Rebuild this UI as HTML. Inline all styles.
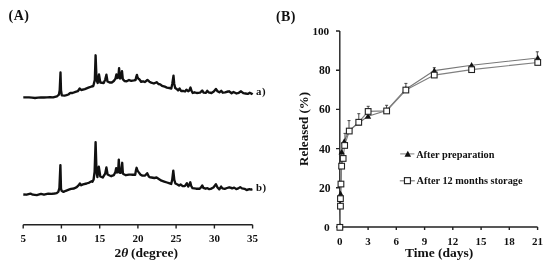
<!DOCTYPE html><html><head><meta charset="utf-8"><style>html,body{margin:0;padding:0;background:#fff;}svg{display:block;filter:grayscale(100%);}text{font-family:"Liberation Serif",serif;font-weight:bold;fill:#111;}</style></head><body>
<svg width="550" height="266" viewBox="0 0 550 266">
<text x="8.6" y="20.3" font-size="14" letter-spacing="0.5">(A)</text>
<text x="276" y="20.5" font-size="14" letter-spacing="0.4">(B)</text>
<path d="M23.2,224.8 H252.6 M23.2,224.8 V228.4 M61.4,224.8 V228.4 M99.7,224.8 V228.4 M137.9,224.8 V228.4 M176.1,224.8 V228.4 M214.4,224.8 V228.4 M252.6,224.8 V228.4" stroke="#222" stroke-width="1.4" fill="none"/>
<text x="23.2" y="242" font-size="11" text-anchor="middle">5</text>
<text x="61.4" y="242" font-size="11" text-anchor="middle">10</text>
<text x="99.7" y="242" font-size="11" text-anchor="middle">15</text>
<text x="137.9" y="242" font-size="11" text-anchor="middle">20</text>
<text x="176.1" y="242" font-size="11" text-anchor="middle">25</text>
<text x="214.4" y="242" font-size="11" text-anchor="middle">30</text>
<text x="252.6" y="242" font-size="11" text-anchor="middle">35</text>
<text x="114.5" y="256.8" font-size="13.5">2<tspan font-style="italic">θ</tspan></text>
<text x="131.0" y="256.8" font-size="13.5">(degree)</text>
<path d="M23.3,97.4 L26.0,97.3 L29.0,97.4 L32.0,97.7 L35.0,98.0 L38.0,97.7 L41.0,97.4 L44.0,97.5 L47.0,97.3 L50.0,97.1 L53.1,97.3 L55.0,96.8 L56.9,96.3 L58.9,94.7 L59.7,90.3 L60.5,72.5 L61.0,90.3 L61.8,95.4 L64.6,95.6 L66.5,95.2 L68.4,94.5 L70.3,92.9 L72.5,93.0 L75.5,91.9 L77.8,91.2 L79.7,88.5 L81.2,90.0 L84.8,89.1 L88.4,87.7 L91.6,86.5 L93.3,86.0 L94.8,80.0 L95.6,55.3 L96.4,76.0 L96.9,81.0 L97.7,83.0 L99.0,74.5 L100.3,82.5 L103.7,83.0 L105.2,79.6 L106.4,74.7 L107.5,81.5 L109.6,82.5 L111.8,82.5 L113.8,81.0 L115.5,78.6 L116.4,74.5 L117.2,78.0 L118.3,77.5 L119.1,68.2 L119.9,78.5 L120.8,77.8 L121.4,76.0 L122.0,71.1 L122.8,79.1 L124.5,81.0 L126.7,81.3 L129.0,80.0 L131.2,80.9 L133.9,80.4 L135.6,80.0 L136.2,77.0 L136.9,74.9 L137.6,77.5 L138.5,78.8 L139.3,79.3 L141.1,81.8 L143.0,81.3 L144.8,82.0 L145.8,81.3 L147.4,79.9 L149.4,81.7 L151.2,82.6 L153.9,83.5 L156.6,82.2 L158.4,84.0 L160.2,84.4 L162.0,85.8 L164.8,86.7 L166.9,87.6 L169.4,88.0 L171.3,88.5 L172.3,83.7 L173.5,75.7 L174.2,83.7 L175.2,88.0 L176.7,89.0 L178.1,90.5 L179.6,88.5 L181.1,91.0 L183.5,91.0 L185.0,91.5 L186.4,89.7 L188.1,91.2 L189.3,90.4 L190.5,87.5 L191.5,90.8 L192.7,93.0 L194.5,92.3 L196.8,93.0 L199.8,92.7 L200.9,91.9 L202.2,90.5 L203.6,92.7 L205.8,92.8 L207.2,90.8 L208.5,92.3 L211.5,93.0 L213.8,91.5 L215.9,89.0 L217.5,91.2 L219.4,92.3 L221.2,90.8 L222.8,92.7 L225.1,92.3 L228.0,91.5 L229.0,91.3 L231.6,93.2 L233.5,92.0 L236.5,93.5 L238.8,92.8 L241.0,91.3 L243.3,93.2 L245.5,93.5 L247.8,93.9 L249.7,92.8 L251.9,93.9 L252.5,94.5" stroke="#111" stroke-width="2.35" fill="none" stroke-linejoin="round" stroke-linecap="butt"/>
<path d="M23.3,194.5 L26.6,194.7 L30.5,193.6 L32.9,194.7 L36.8,195.1 L41.0,193.9 L44.0,194.7 L48.3,193.6 L51.7,193.9 L54.5,193.5 L56.7,193.1 L58.3,191.9 L59.4,188.0 L60.4,165.1 L61.0,188.6 L61.6,190.8 L63.5,191.9 L65.8,190.8 L68.8,189.7 L71.0,188.9 L74.0,188.5 L76.7,187.1 L79.0,184.9 L79.9,183.5 L81.2,185.3 L83.0,184.4 L86.6,183.5 L89.3,182.6 L91.6,181.3 L92.5,181.8 L93.6,179.5 L94.6,172.0 L95.6,142.1 L96.4,168.0 L96.9,174.0 L97.4,177.0 L98.8,166.6 L100.3,176.5 L102.7,177.5 L105.2,173.6 L106.4,167.5 L107.6,174.5 L109.6,175.5 L111.2,176.2 L113.8,175.2 L115.4,172.0 L116.2,168.1 L117.0,172.5 L118.1,172.0 L118.8,159.6 L119.5,172.5 L120.5,172.8 L121.5,169.0 L122.2,162.8 L122.9,173.5 L123.9,174.3 L125.9,175.2 L129.0,174.6 L131.6,174.7 L135.2,174.7 L135.9,170.6 L136.6,167.8 L137.5,170.6 L138.8,172.4 L140.6,174.7 L142.4,175.6 L145.1,175.6 L147.2,173.2 L148.8,176.5 L150.1,177.4 L151.6,177.5 L154.3,178.0 L156.6,177.5 L158.8,178.9 L161.5,180.7 L164.2,181.6 L167.0,182.5 L169.7,183.4 L171.2,184.0 L172.2,179.8 L173.3,170.6 L174.3,179.8 L175.4,183.5 L177.5,184.5 L179.1,185.6 L180.6,184.5 L182.7,186.1 L184.8,186.1 L186.9,183.2 L188.2,186.6 L189.4,184.6 L190.3,182.3 L191.2,186.0 L192.5,188.2 L196.1,188.7 L199.7,188.7 L201.4,186.9 L202.3,185.4 L203.3,187.8 L205.6,188.7 L207.4,188.2 L209.2,189.1 L210.7,188.9 L213.4,187.5 L215.9,184.3 L217.5,187.5 L219.3,189.3 L221.1,186.6 L222.4,188.4 L224.7,188.9 L227.0,188.0 L229.2,187.3 L230.5,187.6 L232.1,188.4 L234.2,187.6 L236.3,189.1 L238.3,188.4 L240.2,187.1 L242.0,188.4 L244.5,188.8 L246.6,190.0 L249.5,189.2 L251.1,189.6 L252.4,189.2" stroke="#111" stroke-width="2.35" fill="none" stroke-linejoin="round" stroke-linecap="butt"/>
<text x="255.9" y="95.3" font-size="10.8" letter-spacing="0.6">a)</text>
<text x="256.0" y="191.3" font-size="10.8" letter-spacing="0.6">b)</text>
<path d="M339.8,31.0 V227.0 H537.6 M336.0,227.0 H339.8 M336.0,187.8 H339.8 M336.0,148.6 H339.8 M336.0,109.4 H339.8 M336.0,70.2 H339.8 M336.0,31.0 H339.8 M339.8,227.0 V230.0 M368.1,227.0 V230.0 M396.3,227.0 V230.0 M424.6,227.0 V230.0 M452.8,227.0 V230.0 M481.1,227.0 V230.0 M509.3,227.0 V230.0 M537.6,227.0 V230.0" stroke="#222" stroke-width="1.4" fill="none"/>
<text x="329.8" y="230.9" font-size="11.4" text-anchor="end">0</text>
<text x="330.5" y="191.8" font-size="11.6" text-anchor="end">20</text>
<text x="330.5" y="152.6" font-size="11.6" text-anchor="end">40</text>
<text x="330.5" y="113.4" font-size="11.6" text-anchor="end">60</text>
<text x="330.5" y="74.2" font-size="11.6" text-anchor="end">80</text>
<text x="329.2" y="34.9" font-size="11.2" text-anchor="end">100</text>
<text x="339.8" y="244.8" font-size="11" text-anchor="middle">0</text>
<text x="368.1" y="244.8" font-size="11" text-anchor="middle">3</text>
<text x="396.3" y="244.8" font-size="11" text-anchor="middle">6</text>
<text x="424.6" y="244.8" font-size="11" text-anchor="middle">9</text>
<text x="452.8" y="244.8" font-size="11" text-anchor="middle">12</text>
<text x="481.1" y="244.8" font-size="11" text-anchor="middle">15</text>
<text x="509.3" y="244.8" font-size="11" text-anchor="middle">18</text>
<text x="537.6" y="244.8" font-size="11" text-anchor="middle">21</text>
<text transform="translate(307.8,128.9) rotate(-90)" font-size="13" text-anchor="middle">Released (%)</text>
<text x="439.1" y="257.3" font-size="13.5" text-anchor="middle">Time (days)</text>
<path d="M340.1,226.5 L340.5,205.0 L340.6,193.8 L341.0,184.5 L341.6,165.8 L341.7,152.0 L344.2,141.4 L349.0,130.5 L358.5,123.0 L368.0,116.2 L386.6,110.5 L405.9,89.2 L434.3,70.6 L471.6,65.2 L537.8,58.0" stroke="#777" stroke-width="1.15" fill="none"/>
<path d="M339.9,227.3 L340.5,206.2 L340.5,198.7 L341.0,184.0 L341.6,166.2 L343.2,158.4 L344.6,145.4 L349.3,131.0 L358.8,122.2 L368.2,111.4 L386.6,110.9 L405.9,90.0 L434.3,75.1 L471.6,69.6 L537.8,62.5" stroke="#808080" stroke-width="1.15" fill="none"/>
<path d="M345.0,133.4 V140.4 M343.5,133.4 H346.5 M349.0,120.6 V127.6 M347.5,120.6 H350.5 M358.8,113.7 V120.7 M357.3,113.7 H360.3 M368.2,106.3 V113.3 M366.7,106.3 H369.7 M386.6,105.3 V112.3 M385.1,105.3 H388.1 M405.9,83.4 V90.4 M404.4,83.4 H407.4 M434.3,67.7 V74.7 M432.8,67.7 H435.8 M537.3,51.8 V58.8 M535.8,51.8 H538.8" stroke="#333" stroke-width="0.9" fill="none"/>
<path d="M340.1,223.3 L343.3,229.1 L336.9,229.1 Z" fill="#111"/>
<path d="M340.5,201.8 L343.7,207.6 L337.3,207.6 Z" fill="#111"/>
<path d="M340.6,190.6 L343.8,196.4 L337.4,196.4 Z" fill="#111"/>
<path d="M341.0,181.3 L344.2,187.1 L337.8,187.1 Z" fill="#111"/>
<path d="M341.6,162.6 L344.8,168.4 L338.4,168.4 Z" fill="#111"/>
<path d="M341.7,148.8 L344.9,154.6 L338.5,154.6 Z" fill="#111"/>
<path d="M344.2,138.2 L347.4,144.0 L341.0,144.0 Z" fill="#111"/>
<path d="M349.0,127.3 L352.2,133.1 L345.8,133.1 Z" fill="#111"/>
<path d="M358.5,119.8 L361.7,125.6 L355.3,125.6 Z" fill="#111"/>
<path d="M368.0,113.0 L371.2,118.8 L364.8,118.8 Z" fill="#111"/>
<path d="M386.6,107.3 L389.8,113.1 L383.4,113.1 Z" fill="#111"/>
<path d="M405.9,86.0 L409.1,91.8 L402.7,91.8 Z" fill="#111"/>
<path d="M434.3,67.4 L437.5,73.2 L431.1,73.2 Z" fill="#111"/>
<path d="M471.6,62.0 L474.8,67.8 L468.4,67.8 Z" fill="#111"/>
<path d="M537.8,54.8 L541.0,60.6 L534.6,60.6 Z" fill="#111"/>
<rect x="337.0" y="224.5" width="5.7" height="5.7" fill="#fff" stroke="#222" stroke-width="1.1"/>
<rect x="337.6" y="203.3" width="5.7" height="5.7" fill="#fff" stroke="#222" stroke-width="1.1"/>
<rect x="337.6" y="195.8" width="5.7" height="5.7" fill="#fff" stroke="#222" stroke-width="1.1"/>
<rect x="338.1" y="181.2" width="5.7" height="5.7" fill="#fff" stroke="#222" stroke-width="1.1"/>
<rect x="338.8" y="163.3" width="5.7" height="5.7" fill="#fff" stroke="#222" stroke-width="1.1"/>
<rect x="340.3" y="155.6" width="5.7" height="5.7" fill="#fff" stroke="#222" stroke-width="1.1"/>
<rect x="341.8" y="142.6" width="5.7" height="5.7" fill="#fff" stroke="#222" stroke-width="1.1"/>
<rect x="346.4" y="128.2" width="5.7" height="5.7" fill="#fff" stroke="#222" stroke-width="1.1"/>
<rect x="355.9" y="119.4" width="5.7" height="5.7" fill="#fff" stroke="#222" stroke-width="1.1"/>
<rect x="365.3" y="108.6" width="5.7" height="5.7" fill="#fff" stroke="#222" stroke-width="1.1"/>
<rect x="383.8" y="108.1" width="5.7" height="5.7" fill="#fff" stroke="#222" stroke-width="1.1"/>
<rect x="403.0" y="87.2" width="5.7" height="5.7" fill="#fff" stroke="#222" stroke-width="1.1"/>
<rect x="431.4" y="72.2" width="5.7" height="5.7" fill="#fff" stroke="#222" stroke-width="1.1"/>
<rect x="468.8" y="66.8" width="5.7" height="5.7" fill="#fff" stroke="#222" stroke-width="1.1"/>
<rect x="534.9" y="59.6" width="5.7" height="5.7" fill="#fff" stroke="#222" stroke-width="1.1"/>
<path d="M400.2,153.9 H414.4 M399.8,180.8 H414.8" stroke="#999" stroke-width="1.4"/>
<path d="M407.8,150.8 L411.1,156.8 L404.5,156.8 Z" fill="#111"/>
<rect x="404.45" y="177.65" width="6.0" height="6.0" fill="#fff" stroke="#222" stroke-width="1.15"/>
<text x="416.2" y="157.7" font-size="10.3">After preparation</text>
<text x="416.6" y="183.9" font-size="10.3">After 12 months storage</text>
</svg></body></html>
